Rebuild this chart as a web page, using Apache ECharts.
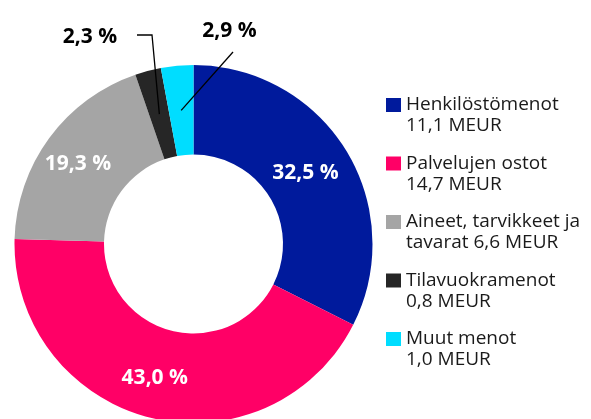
<!DOCTYPE html>
<html>
<head>
<meta charset="utf-8">
<script src="https://cdn.jsdelivr.net/npm/echarts@6/dist/echarts.min.js"></script>
<style>
  html, body { margin: 0; padding: 0; background: #ffffff; }
  #chart { width: 591px; height: 419px; }
</style>
</head>
<body>
<div id="chart"></div>
<script>
// Expense categories and amounts (MEUR)
const categories = ['Henkilöstömenot', 'Palvelujen ostot', 'Aineet, tarvikkeet ja tavarat', 'Tilavuokramenot', 'Muut menot'];
const values = [11.1, 14.7, 6.6, 0.8, 1.0];
const colors = ['#001A9C', '#FF0066', '#A5A5A5', '#262626', '#00DDFF'];

// Legend text split over two lines
const legendLine1 = ['Henkilöstömenot', 'Palvelujen ostot', 'Aineet, tarvikkeet ja', 'Tilavuokramenot', 'Muut menot'];
const legendLine2Prefix = ['', '', 'tavarat ', '', ''];

// Slices whose percentage sits outside the ring with a leader line
const calloutSlices = [3, 4];

// Ring geometry
const CX = 193.5, CY = 244, R0 = 89.5, R1 = 179;
const FONT = '"Open Sans", "Noto Sans", sans-serif';

const total = values.reduce((a, b) => a + b, 0);
const fmt1 = v => v.toFixed(1).replace('.', ',');
const pctText = v => fmt1(v / total * 100) + ' %';

// Point at mid-ring radius, at the middle angle of slice i
function sliceMidPoint(i) {
  let before = 0;
  for (let k = 0; k < i; k++) before += values[k];
  const frac = (before + values[i] / 2) / total;
  const a = (90 - frac * 360) * Math.PI / 180;
  const rm = (R0 + R1) / 2;
  return [CX + rm * Math.cos(a), CY - rm * Math.sin(a)];
}

// Label placement for the callouts
const calloutPlacement = {
  3: { x: 90, y: 37, bend: [[152, 35], [137, 35]] },
  4: { x: 229.5, y: 31, bend: [[233, 52]] }
};

const ringBase = {
  type: 'pie',
  center: [CX, CY],
  radius: [R0, R1],
  startAngle: 90,
  clockwise: true,
  avoidLabelOverlap: false,
  emphasis: { disabled: true }
};

const chart = echarts.init(document.getElementById('chart'), null, { renderer: 'canvas' });

chart.setOption({
  animation: false,
  backgroundColor: '#ffffff',
  legend: {
    orient: 'vertical',
    left: 386,
    top: 73.5,
    padding: 0,
    icon: 'rect',
    itemWidth: 15,
    itemHeight: 14,
    itemGap: -4.5,
    selectedMode: false,
    data: categories,
    formatter: function (name) {
      const i = categories.indexOf(name);
      // blank first line keeps the square beside the first text line
      return ' \n' + legendLine1[i] + '\n' + legendLine2Prefix[i] + fmt1(values[i]) + ' MEUR';
    },
    textStyle: {
      fontFamily: FONT,
      fontSize: 19,
      lineHeight: 21,
      color: '#1a1a1a'
    }
  },
  series: [
    // Coloured ring with the inside percentages
    Object.assign({}, ringBase, {
      z: 2,
      label: {
        position: 'inside',
        color: '#ffffff',
        fontFamily: FONT,
        fontWeight: 'bold',
        fontSize: 21,
        offset: [-5, 1],
        formatter: p => pctText(p.value)
      },
      labelLine: { show: false },
      data: values.map((v, i) => ({
        value: v,
        name: categories[i],
        itemStyle: { color: colors[i] },
        label: { show: calloutSlices.indexOf(i) < 0 }
      }))
    }),
    // Transparent copy on top carrying the callout labels and leader lines
    Object.assign({}, ringBase, {
      z: 3,
      silent: true,
      legendHoverLink: false,
      itemStyle: { color: 'rgba(0,0,0,0)' },
      label: {
        position: 'outside',
        color: '#000000',
        fontFamily: FONT,
        fontWeight: 'bold',
        fontSize: 21,
        formatter: p => pctText(p.value)
      },
      labelLine: {
        length: 10,
        length2: 10,
        lineStyle: { color: '#000000', width: 1.3 }
      },
      labelLayout: function (params) {
        const c = calloutPlacement[params.dataIndex];
        if (!c) return {};
        return {
          x: c.x,
          y: c.y,
          align: 'center',
          verticalAlign: 'middle',
          labelLinePoints: [sliceMidPoint(params.dataIndex)].concat(c.bend)
        };
      },
      data: values.map((v, i) => {
        const shown = calloutSlices.indexOf(i) >= 0;
        return {
          value: v,
          name: categories[i] + ' ',
          label: { show: shown },
          labelLine: { show: shown }
        };
      })
    })
  ]
});
</script>
</body>
</html>
